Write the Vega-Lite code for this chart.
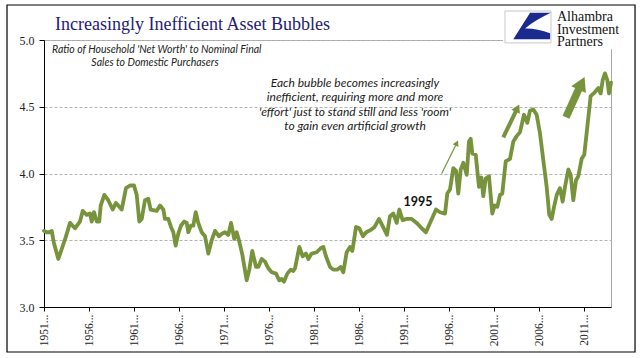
{
  "$schema": "https://vega.github.io/schema/vega-lite/v6.json",
  "width": 567,
  "height": 267,
  "autosize": {"type": "none"},
  "padding": {"left": 44, "top": 40, "right": 33, "bottom": 51},
  "background": "white",
  "config": {
    "view": {"stroke": "#a6a6a6", "strokeWidth": 1},
    "text": {"font": "Lato"}
  },
  "datasets": {
    "ratio": [
      {"year": 1951.00, "ratio": 3.57}, {"year": 1951.30, "ratio": 3.56}, {"year": 1951.59, "ratio": 3.56}, {"year": 1951.86, "ratio": 3.57},
      {"year": 1952.10, "ratio": 3.48}, {"year": 1952.59, "ratio": 3.36}, {"year": 1952.90, "ratio": 3.42}, {"year": 1953.40, "ratio": 3.52},
      {"year": 1953.89, "ratio": 3.63}, {"year": 1954.44, "ratio": 3.59}, {"year": 1955.00, "ratio": 3.64}, {"year": 1955.30, "ratio": 3.72},
      {"year": 1955.74, "ratio": 3.69}, {"year": 1956.11, "ratio": 3.70}, {"year": 1956.30, "ratio": 3.64}, {"year": 1956.56, "ratio": 3.71},
      {"year": 1956.86, "ratio": 3.64}, {"year": 1957.14, "ratio": 3.64}, {"year": 1957.30, "ratio": 3.76}, {"year": 1957.70, "ratio": 3.84},
      {"year": 1958.14, "ratio": 3.80}, {"year": 1958.63, "ratio": 3.73}, {"year": 1959.00, "ratio": 3.78}, {"year": 1959.63, "ratio": 3.73},
      {"year": 1960.11, "ratio": 3.89}, {"year": 1960.56, "ratio": 3.91}, {"year": 1961.00, "ratio": 3.91}, {"year": 1961.30, "ratio": 3.84},
      {"year": 1961.59, "ratio": 3.64}, {"year": 1961.86, "ratio": 3.66}, {"year": 1962.22, "ratio": 3.80}, {"year": 1962.59, "ratio": 3.81},
      {"year": 1962.85, "ratio": 3.73}, {"year": 1963.52, "ratio": 3.72}, {"year": 1963.89, "ratio": 3.76}, {"year": 1964.26, "ratio": 3.73},
      {"year": 1964.44, "ratio": 3.66}, {"year": 1964.81, "ratio": 3.66}, {"year": 1965.11, "ratio": 3.60}, {"year": 1965.37, "ratio": 3.56},
      {"year": 1965.63, "ratio": 3.46}, {"year": 1965.92, "ratio": 3.55}, {"year": 1966.22, "ratio": 3.61}, {"year": 1966.59, "ratio": 3.64},
      {"year": 1966.86, "ratio": 3.63}, {"year": 1967.03, "ratio": 3.56}, {"year": 1967.33, "ratio": 3.61}, {"year": 1967.59, "ratio": 3.61},
      {"year": 1967.86, "ratio": 3.71}, {"year": 1968.14, "ratio": 3.63}, {"year": 1968.52, "ratio": 3.56}, {"year": 1968.89, "ratio": 3.53},
      {"year": 1969.26, "ratio": 3.40}, {"year": 1969.63, "ratio": 3.50}, {"year": 1970.00, "ratio": 3.57}, {"year": 1970.44, "ratio": 3.53},
      {"year": 1970.81, "ratio": 3.55}, {"year": 1971.11, "ratio": 3.56}, {"year": 1971.48, "ratio": 3.54}, {"year": 1971.78, "ratio": 3.63},
      {"year": 1972.14, "ratio": 3.51}, {"year": 1972.41, "ratio": 3.56}, {"year": 1972.70, "ratio": 3.49}, {"year": 1973.04, "ratio": 3.39},
      {"year": 1973.52, "ratio": 3.20}, {"year": 1973.81, "ratio": 3.28}, {"year": 1974.14, "ratio": 3.42}, {"year": 1974.56, "ratio": 3.30},
      {"year": 1974.81, "ratio": 3.30}, {"year": 1975.19, "ratio": 3.36}, {"year": 1975.56, "ratio": 3.34}, {"year": 1975.92, "ratio": 3.29},
      {"year": 1976.30, "ratio": 3.26}, {"year": 1976.78, "ratio": 3.25}, {"year": 1977.14, "ratio": 3.20}, {"year": 1977.41, "ratio": 3.21},
      {"year": 1977.67, "ratio": 3.19}, {"year": 1978.03, "ratio": 3.25}, {"year": 1978.41, "ratio": 3.28}, {"year": 1978.70, "ratio": 3.27},
      {"year": 1978.89, "ratio": 3.29}, {"year": 1979.37, "ratio": 3.45}, {"year": 1979.74, "ratio": 3.38}, {"year": 1980.11, "ratio": 3.40},
      {"year": 1980.37, "ratio": 3.36}, {"year": 1980.74, "ratio": 3.40}, {"year": 1981.30, "ratio": 3.41}, {"year": 1981.74, "ratio": 3.44},
      {"year": 1982.04, "ratio": 3.45}, {"year": 1982.33, "ratio": 3.38}, {"year": 1982.78, "ratio": 3.30}, {"year": 1983.14, "ratio": 3.28},
      {"year": 1983.59, "ratio": 3.28}, {"year": 1983.96, "ratio": 3.30}, {"year": 1984.26, "ratio": 3.26}, {"year": 1984.63, "ratio": 3.41},
      {"year": 1985.00, "ratio": 3.45}, {"year": 1985.26, "ratio": 3.42}, {"year": 1985.67, "ratio": 3.60}, {"year": 1986.03, "ratio": 3.59},
      {"year": 1986.44, "ratio": 3.53}, {"year": 1986.81, "ratio": 3.56}, {"year": 1987.37, "ratio": 3.58}, {"year": 1987.74, "ratio": 3.60},
      {"year": 1988.22, "ratio": 3.66}, {"year": 1988.67, "ratio": 3.60}, {"year": 1989.11, "ratio": 3.54}, {"year": 1989.44, "ratio": 3.68},
      {"year": 1989.81, "ratio": 3.70}, {"year": 1990.19, "ratio": 3.63}, {"year": 1990.48, "ratio": 3.73}, {"year": 1990.85, "ratio": 3.65},
      {"year": 1991.30, "ratio": 3.66}, {"year": 1991.85, "ratio": 3.66}, {"year": 1992.41, "ratio": 3.63}, {"year": 1992.96, "ratio": 3.59},
      {"year": 1993.44, "ratio": 3.56}, {"year": 1993.89, "ratio": 3.63}, {"year": 1994.56, "ratio": 3.73}, {"year": 1995.00, "ratio": 3.71},
      {"year": 1995.56, "ratio": 3.70}, {"year": 1995.81, "ratio": 3.85}, {"year": 1996.11, "ratio": 3.88}, {"year": 1996.48, "ratio": 4.04},
      {"year": 1996.78, "ratio": 4.02}, {"year": 1997.03, "ratio": 3.85}, {"year": 1997.30, "ratio": 4.03}, {"year": 1997.59, "ratio": 4.08},
      {"year": 1997.97, "ratio": 3.99}, {"year": 1998.22, "ratio": 4.24}, {"year": 1998.41, "ratio": 4.26}, {"year": 1998.59, "ratio": 4.15},
      {"year": 1998.97, "ratio": 4.14}, {"year": 1999.33, "ratio": 3.90}, {"year": 1999.59, "ratio": 3.97}, {"year": 1999.81, "ratio": 3.83},
      {"year": 2000.07, "ratio": 3.96}, {"year": 2000.44, "ratio": 3.98}, {"year": 2000.81, "ratio": 3.70}, {"year": 2001.08, "ratio": 3.76},
      {"year": 2001.37, "ratio": 3.75}, {"year": 2001.67, "ratio": 3.84}, {"year": 2001.92, "ratio": 3.85}, {"year": 2002.30, "ratio": 4.09},
      {"year": 2002.78, "ratio": 4.11}, {"year": 2003.15, "ratio": 4.24}, {"year": 2003.52, "ratio": 4.28}, {"year": 2003.89, "ratio": 4.31},
      {"year": 2004.33, "ratio": 4.44}, {"year": 2004.70, "ratio": 4.38}, {"year": 2005.00, "ratio": 4.47}, {"year": 2005.37, "ratio": 4.48},
      {"year": 2005.74, "ratio": 4.44}, {"year": 2006.11, "ratio": 4.30}, {"year": 2006.48, "ratio": 4.10}, {"year": 2006.85, "ratio": 3.90},
      {"year": 2007.14, "ratio": 3.69}, {"year": 2007.41, "ratio": 3.66}, {"year": 2007.67, "ratio": 3.75}, {"year": 2007.97, "ratio": 3.84},
      {"year": 2008.33, "ratio": 3.89}, {"year": 2008.63, "ratio": 3.79}, {"year": 2008.89, "ratio": 3.90}, {"year": 2009.26, "ratio": 4.03},
      {"year": 2009.52, "ratio": 3.99}, {"year": 2009.81, "ratio": 3.80}, {"year": 2010.11, "ratio": 3.95}, {"year": 2010.37, "ratio": 3.98},
      {"year": 2010.74, "ratio": 4.11}, {"year": 2011.03, "ratio": 4.14}, {"year": 2011.37, "ratio": 4.35}, {"year": 2011.74, "ratio": 4.58},
      {"year": 2012.22, "ratio": 4.61}, {"year": 2012.59, "ratio": 4.64}, {"year": 2012.85, "ratio": 4.60}, {"year": 2013.08, "ratio": 4.70},
      {"year": 2013.33, "ratio": 4.75}, {"year": 2013.59, "ratio": 4.70}, {"year": 2013.78, "ratio": 4.60}, {"year": 2014.00, "ratio": 4.68}
    ]
  },
  "layer": [
    {
      "data": {"name": "ratio"},
      "mark": {"type": "line", "color": "#77933C", "strokeWidth": 3.8, "strokeJoin": "round", "strokeCap": "round"},
      "encoding": {
        "x": {
          "field": "year", "type": "quantitative",
          "scale": {"domain": [1951, 2014], "nice": false, "zero": false},
          "axis": {
            "title": null, "values": [1951, 1956, 1961, 1966, 1971, 1976, 1981, 1986, 1991, 1996, 2001, 2006, 2011],
            "labelExpr": "datum.value + '...'", "labelAngle": -90, "labelFont": "Liberation Serif", "labelFontSize": 11.5,
            "labelColor": "#222222", "labelPadding": 3, "grid": false, "tickSize": 4, "tickColor": "#000000",
            "domainColor": "#000000", "domainWidth": 1
          }
        },
        "y": {
          "field": "ratio", "type": "quantitative",
          "scale": {"domain": [3, 5], "nice": false, "zero": false},
          "axis": {
            "title": null, "values": [3, 3.5, 4, 4.5, 5], "format": ".1f", "labelFont": "Liberation Serif", "labelFontSize": 12,
            "labelColor": "#222222", "labelPadding": 5, "tickSize": 5, "tickColor": "#000000", "domainColor": "#000000",
            "grid": true, "gridDash": [3, 2], "gridColor": "#b3b3b3", "gridWidth": 1
          }
        }
      }
    },
    {
      "data": {"values": [{}]},
      "mark": {"type": "rect", "filled": false, "stroke": "#000000", "strokeWidth": 1.2},
      "encoding": {
        "x": {"datum": 1946.89, "type": "quantitative", "title": null},
        "x2": {"datum": 2016.67},
        "y": {"datum": 5.262, "type": "quantitative", "title": null},
        "y2": {"datum": 2.663}
      }
    },
    {
      "data": {"values": [{}]},
      "mark": {"type": "rect", "fill": "#ffffff", "stroke": null},
      "encoding": {
        "x": {"datum": 2002.0, "type": "quantitative", "title": null},
        "x2": {"datum": 2016.4},
        "y": {"datum": 5.245, "type": "quantitative", "title": null},
        "y2": {"datum": 4.93}
      }
    },
    {
      "data": {"values": [{}]},
      "mark": {"type": "rect", "fill": "#ffffff", "stroke": "#c8c8c8", "strokeWidth": 1},
      "encoding": {
        "x": {"datum": 2002.22, "type": "quantitative", "title": null},
        "x2": {"datum": 2007.33},
        "y": {"datum": 5.217, "type": "quantitative", "title": null},
        "y2": {"datum": 4.978}
      }
    },
    {
      "data": {"values": [{}]},
      "mark": {"type": "point", "filled": true, "color": "#1b2a8f", "opacity": 1, "size": 2116,
        "shape": "M0.09,-0.62 L0.99,-0.62 Q0.3,-0.3 -0.13,0.06 Q0.4,0.05 0.96,0.27 L0.96,0.53 L-0.64,0.53 Z"},
      "encoding": {
        "x": {"datum": 2004.78, "type": "quantitative", "title": null},
        "y": {"datum": 5.097, "type": "quantitative", "title": null}
      }
    },
    {
      "data": {"values": [{}]},
      "mark": {"type": "text", "text": ["Alhambra", "Investment", "Partners"], "font": "Liberation Serif", "fontSize": 14,
        "lineHeight": 12.6, "align": "left", "baseline": "alphabetic", "color": "#111111"},
      "encoding": {
        "x": {"datum": 2008.0, "type": "quantitative", "title": null},
        "y": {"datum": 5.142, "type": "quantitative", "title": null}
      }
    },
    {
      "data": {"values": [{}]},
      "mark": {"type": "text", "text": "Increasingly Inefficient Asset Bubbles", "font": "Liberation Serif", "fontSize": 18,
        "align": "left", "baseline": "alphabetic", "color": "#1f2075"},
      "encoding": {
        "x": {"datum": 1952.22, "type": "quantitative", "title": null},
        "y": {"datum": 5.075, "type": "quantitative", "title": null}
      }
    },
    {
      "data": {"values": [{}]},
      "mark": {"type": "text", "text": "Ratio of Household 'Net Worth' to Nominal Final", "fontSize": 10.5, "fontStyle": "italic",
        "align": "left", "baseline": "middle", "color": "#222222"},
      "encoding": {
        "x": {"datum": 1951.89, "type": "quantitative", "title": null},
        "y": {"datum": 4.925, "type": "quantitative", "title": null}
      }
    },
    {
      "data": {"values": [{}]},
      "mark": {"type": "text", "text": "Sales to Domestic Purchasers", "fontSize": 10.5, "fontStyle": "italic",
        "align": "center", "baseline": "middle", "color": "#222222"},
      "encoding": {
        "x": {"datum": 1963.33, "type": "quantitative", "title": null},
        "y": {"datum": 4.828, "type": "quantitative", "title": null}
      }
    },
    {
      "data": {"values": [{}]},
      "mark": {"type": "text", "text": ["Each bubble becomes increasingly", "inefficient, requiring more and more", "'effort' just to stand still and less 'room'", "to gain even artificial growth"],
        "fontSize": 12, "fontStyle": "italic", "lineHeight": 14.5, "align": "center", "baseline": "middle", "color": "#1a1a1a"},
      "encoding": {
        "x": {"datum": 1985.56, "type": "quantitative", "title": null},
        "y": {"datum": 4.678, "type": "quantitative", "title": null}
      }
    },
    {
      "data": {"values": [{}]},
      "mark": {"type": "text", "text": "1995", "fontSize": 12.5, "fontWeight": "bold", "align": "center", "baseline": "middle", "color": "#111111"},
      "encoding": {
        "x": {"datum": 1992.56, "type": "quantitative", "title": null},
        "y": {"datum": 3.79, "type": "quantitative", "title": null}
      }
    },
    {
      "data": {"values": [{}]},
      "mark": {"type": "rule", "color": "#77933C", "strokeWidth": 1.2},
      "encoding": {
        "x": {"datum": 1995.19, "type": "quantitative", "title": null},
        "y": {"datum": 4.0, "type": "quantitative", "title": null},
        "x2": {"datum": 1996.87},
        "y2": {"datum": 4.228}
      }
    },
    {
      "data": {"values": [{}]},
      "mark": {"type": "rule", "color": "#77933C", "strokeWidth": 4},
      "encoding": {
        "x": {"datum": 2002.03, "type": "quantitative", "title": null},
        "y": {"datum": 4.271, "type": "quantitative", "title": null},
        "x2": {"datum": 2003.6},
        "y2": {"datum": 4.49}
      }
    },
    {
      "data": {"values": [{}]},
      "mark": {"type": "rule", "color": "#77933C", "strokeWidth": 7.5},
      "encoding": {
        "x": {"datum": 2009.0, "type": "quantitative", "title": null},
        "y": {"datum": 4.421, "type": "quantitative", "title": null},
        "x2": {"datum": 2010.6},
        "y2": {"datum": 4.66}
      }
    },
    {
      "data": {"values": [{}]},
      "mark": {"type": "point", "shape": "triangle-up", "filled": true, "color": "#77933C", "opacity": 1, "size": 40, "angle": 26},
      "encoding": {
        "x": {"datum": 1996.87, "type": "quantitative", "title": null},
        "y": {"datum": 4.228, "type": "quantitative", "title": null}
      }
    },
    {
      "data": {"values": [{}]},
      "mark": {"type": "point", "shape": "triangle-up", "filled": true, "color": "#77933C", "opacity": 1, "size": 90, "angle": 26},
      "encoding": {
        "x": {"datum": 2003.6, "type": "quantitative", "title": null},
        "y": {"datum": 4.49, "type": "quantitative", "title": null}
      }
    },
    {
      "data": {"values": [{}]},
      "mark": {"type": "point", "shape": "triangle-up", "filled": true, "color": "#77933C", "opacity": 1, "size": 260, "angle": 25},
      "encoding": {
        "x": {"datum": 2010.73, "type": "quantitative", "title": null},
        "y": {"datum": 4.676, "type": "quantitative", "title": null}
      }
    }
  ]
}
